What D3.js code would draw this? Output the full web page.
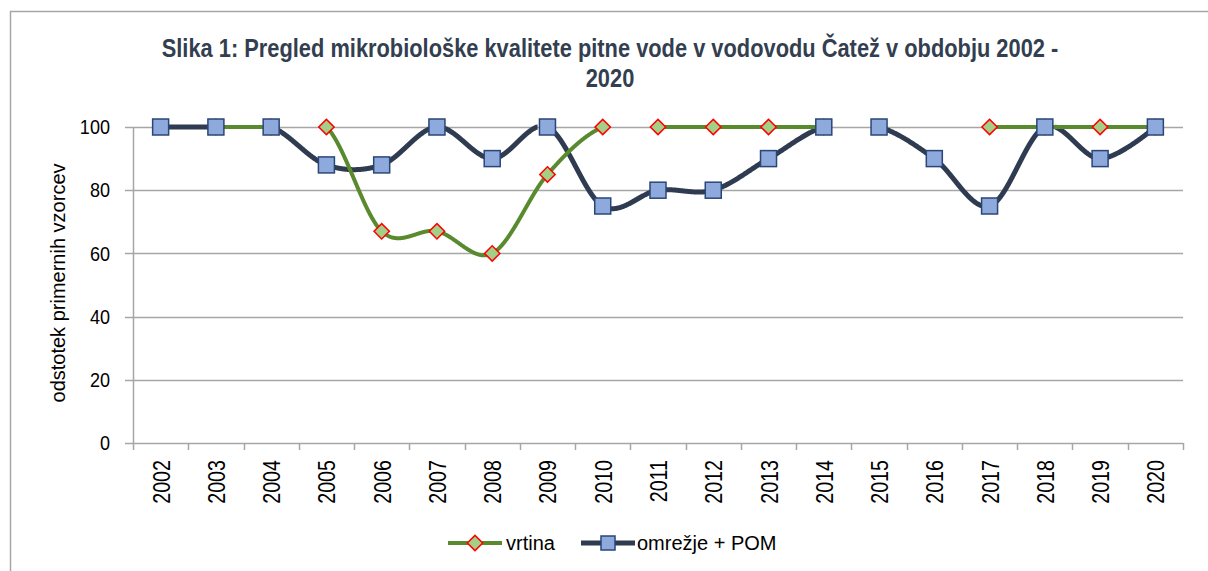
<!DOCTYPE html>
<html>
<head>
<meta charset="utf-8">
<script src="https://cdn.jsdelivr.net/npm/d3@7"></script>
<style>
  body { margin: 0; background: #fff; }
  text { font-family: "Liberation Sans", Arial, sans-serif; }
</style>
</head>
<body>
<div id="chart"></div>
<script>
// chart data
var years = ["2002","2003","2004","2005","2006","2007","2008","2009","2010","2011","2012","2013","2014","2015","2016","2017","2018","2019","2020"];
var vrtina = [null,100,100,100,67,67,60,85,100,100,100,100,100,null,null,100,100,100,100];
var omrezje = [100,100,100,88,88,100,90,100,75,80,80,90,100,100,90,75,100,90,100];
var yTicks = [0,20,40,60,80,100];
var titleLines = ["Slika 1: Pregled mikrobiološke kvalitete pitne vode v vodovodu Čatež v obdobju 2002 -", "2020"];
var yLabel = "odstotek primernih vzorcev";
var seriesNames = ["vrtina", "omrežje + POM"];

const W = 1208, H = 571;
const plotLeft = 133, plotRight = 1183, plotTop = 127, plotBottom = 443;
const gridColor = "#a6a6a6";
const greenLine = "#5a8a2e", greenFill = "#a3cf86";
const blueLine = "#2f3b50", blueFill = "#8eaadc", blueStroke = "#2a4677";

var svg = d3.select("#chart").append("svg")
    .attr("width", W)
    .attr("height", H);

// outer frame (cut off at right/bottom like the source)
svg.append("rect")
    .attr("x", 10.5).attr("y", 11.5)
    .attr("width", 1400).attr("height", 800)
    .attr("fill", "none")
    .attr("stroke", gridColor)
    .attr("stroke-width", 1.5);

var x = d3.scaleBand().domain(years).range([plotLeft, plotRight]).paddingInner(0).paddingOuter(0);
var y = d3.scaleLinear().domain([0, 100]).range([plotBottom, plotTop]);
var cx = function (d) { return x(d) + x.bandwidth() / 2; };

// title (narrow look)
svg.append("g").selectAll("text")
    .data(titleLines).enter()
    .append("text")
    .attr("transform", function (d, i) { return "translate(610," + (57 + i * 30) + ") scale(0.84,1)"; })
    .attr("text-anchor", "middle")
    .attr("font-size", 26)
    .attr("font-weight", "bold")
    .attr("fill", "#333f50")
    .text(function (d) { return d; });

// horizontal grid
svg.append("g").selectAll("line")
    .data(yTicks).enter()
    .append("line")
    .attr("x1", plotLeft - 8).attr("x2", plotRight)
    .attr("y1", function (d) { return Math.round(y(d)) + 0.5; })
    .attr("y2", function (d) { return Math.round(y(d)) + 0.5; })
    .attr("stroke", gridColor)
    .attr("stroke-width", 1.5);

// y axis
var yAxis = svg.append("g")
    .attr("transform", "translate(" + plotLeft + ",0)")
    .call(d3.axisLeft(y).tickValues(yTicks).tickSize(0).tickPadding(0));
yAxis.select(".domain").attr("stroke", gridColor).attr("stroke-width", 1.5);
yAxis.selectAll("text")
    .attr("font-size", 21)
    .attr("fill", "#000")
    .style("font-family", "'Liberation Sans', Arial, sans-serif")
    .attr("x", null)
    .attr("transform", "translate(-23,0) scale(0.86,1)");

// x axis: rotated labels, tick marks at category boundaries
var xAxis = svg.append("g")
    .attr("transform", "translate(0," + plotBottom + ")")
    .call(d3.axisBottom(x).tickSize(0).tickPadding(0));
xAxis.select(".domain").remove();
xAxis.selectAll("line").remove();
xAxis.selectAll("text")
    .attr("font-size", 24)
    .attr("fill", "#000")
    .style("font-family", "'Liberation Sans', Arial, sans-serif")
    .attr("text-anchor", "end")
    .attr("y", 0)
    .attr("dy", null)
    .attr("transform", "translate(9,17) rotate(-90) scale(0.82,1)");

var bounds = years.map(function (d) { return x(d); }).concat([plotRight]);
svg.append("g").selectAll("line")
    .data(bounds).enter()
    .append("line")
    .attr("x1", function (d) { return Math.round(d) + 0.5; })
    .attr("x2", function (d) { return Math.round(d) + 0.5; })
    .attr("y1", plotBottom).attr("y2", plotBottom + 7)
    .attr("stroke", gridColor)
    .attr("stroke-width", 1.5);

// y axis title
svg.append("text")
    .attr("transform", "translate(65,283) rotate(-90)")
    .attr("text-anchor", "middle")
    .attr("font-size", 20)
    .attr("fill", "#000")
    .text(yLabel);

// smoothed lines, cut where the curve goes above the axis maximum
var line = d3.line()
    .x(function (d) { return cx(d.year); })
    .y(function (d) { return y(d.v); })
    .curve(d3.curveCardinal.tension(0));
var poly = d3.line().curve(d3.curveLinear);

function visiblePieces(data) {
    var runs = [], cur = [];
    data.forEach(function (d) {
        if (d.v === null) { if (cur.length) runs.push(cur); cur = []; }
        else cur.push(d);
    });
    if (cur.length) runs.push(cur);
    var pieces = [];
    runs.forEach(function (run) {
        if (run.length < 2) return;
        var tmp = svg.append("path").attr("d", line(run)).attr("fill", "none");
        var node = tmp.node(), L = node.getTotalLength();
        var piece = [];
        for (var s = 0; s <= L + 0.5; s += 0.5) {
            var p = node.getPointAtLength(Math.min(s, L));
            if (p.y >= plotTop - 0.25) piece.push([p.x, Math.max(p.y, plotTop)]);
            else { if (piece.length > 1) pieces.push(piece); piece = []; }
        }
        if (piece.length > 1) pieces.push(piece);
        tmp.remove();
    });
    return pieces;
}

var greenData = years.map(function (d, i) { return { year: d, v: vrtina[i] }; });
var blueData = years.map(function (d, i) { return { year: d, v: omrezje[i] }; });

svg.append("g").selectAll("path")
    .data(visiblePieces(blueData)).enter()
    .append("path")
    .attr("d", poly)
    .attr("fill", "none")
    .attr("stroke", blueLine)
    .attr("stroke-width", 5)
    .attr("stroke-linejoin", "round");

svg.append("g").selectAll("path")
    .data(visiblePieces(greenData)).enter()
    .append("path")
    .attr("d", poly)
    .attr("fill", "none")
    .attr("stroke", greenLine)
    .attr("stroke-width", 4)
    .attr("stroke-linejoin", "round");

// markers
var diamond = d3.symbol().type(d3.symbolSquare).size(118);
svg.append("g").selectAll("path")
    .data(greenData.filter(function (d) { return d.v !== null; })).enter()
    .append("path")
    .attr("d", diamond)
    .attr("transform", function (d) { return "translate(" + cx(d.year) + "," + y(d.v) + ") rotate(45)"; })
    .attr("fill", greenFill)
    .attr("stroke", "#ff0000")
    .attr("stroke-width", 1.5);

svg.append("g").selectAll("rect")
    .data(blueData).enter()
    .append("rect")
    .attr("x", function (d) { return cx(d.year) - 8; })
    .attr("y", function (d) { return y(d.v) - 8; })
    .attr("width", 16).attr("height", 16)
    .attr("fill", blueFill)
    .attr("stroke", blueStroke)
    .attr("stroke-width", 1.5);

// legend
var legend = svg.append("g").attr("transform", "translate(0,543)");
legend.append("line").attr("x1", 448).attr("x2", 502).attr("y1", 0).attr("y2", 0)
    .attr("stroke", greenLine).attr("stroke-width", 4);
legend.append("path").attr("d", diamond)
    .attr("transform", "translate(475,0) rotate(45)")
    .attr("fill", greenFill).attr("stroke", "#ff0000").attr("stroke-width", 1.5);
legend.append("text").attr("x", 506).attr("y", 7).attr("font-size", 20).text(seriesNames[0]);

legend.append("line").attr("x1", 581).attr("x2", 635).attr("y1", 0).attr("y2", 0)
    .attr("stroke", blueLine).attr("stroke-width", 5);
legend.append("rect").attr("x", 601).attr("y", -7).attr("width", 14).attr("height", 14)
    .attr("fill", blueFill).attr("stroke", blueStroke).attr("stroke-width", 1.5);
legend.append("text").attr("x", 637).attr("y", 7).attr("font-size", 20).text(seriesNames[1]);
</script>
</body>
</html>
